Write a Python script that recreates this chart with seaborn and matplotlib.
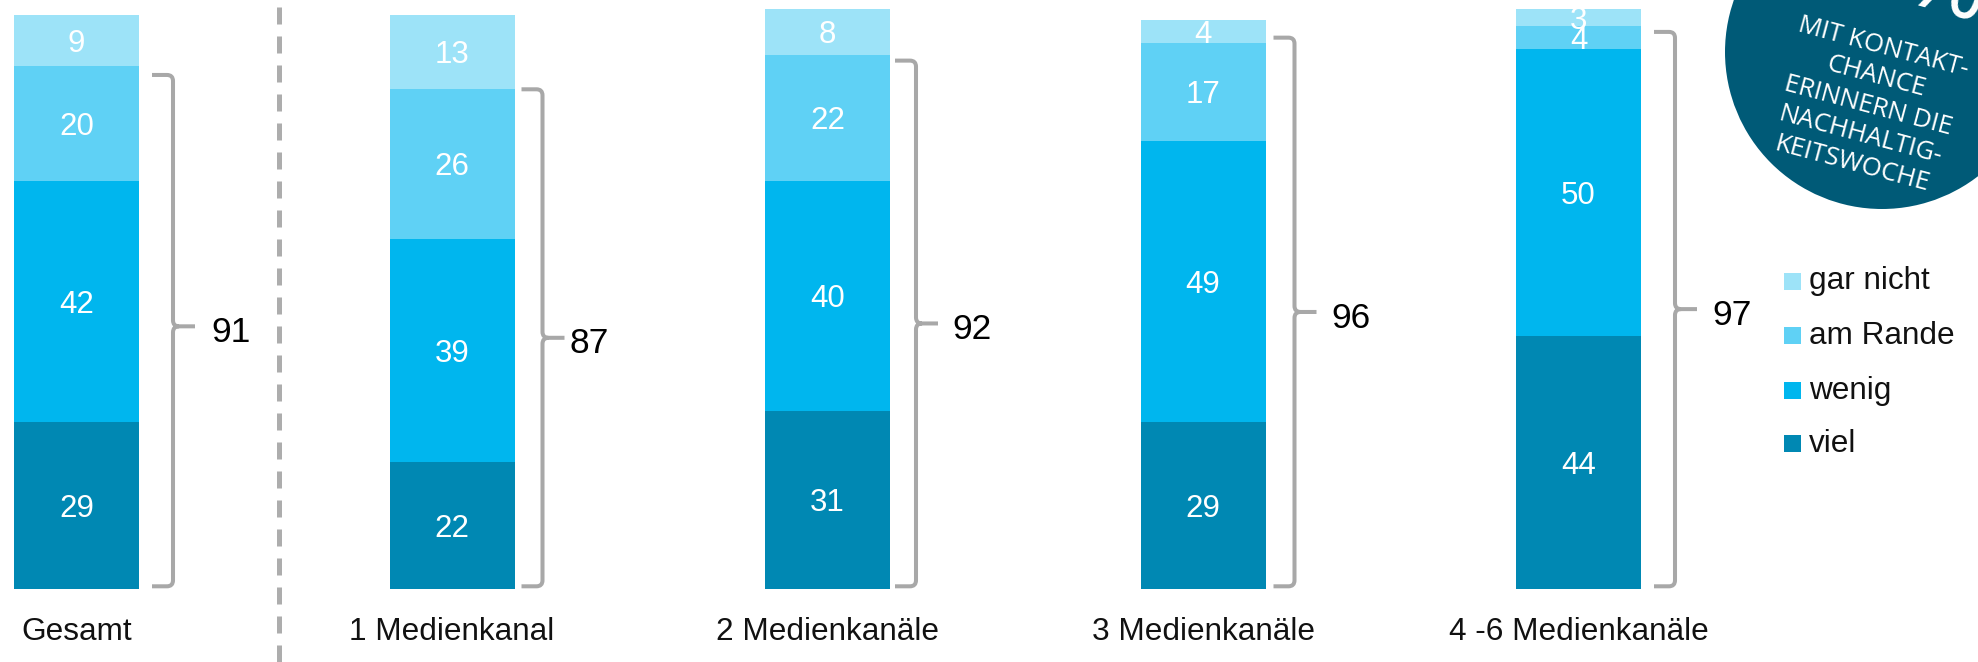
import numpy as np
import pandas as pd
import matplotlib
matplotlib.use("Agg")
import matplotlib.pyplot as plt
import seaborn as sns
from matplotlib.path import Path
from matplotlib.patches import PathPatch, Ellipse, Rectangle

# ---------------- data ----------------
categories = ["Gesamt", "1 Medienkanal", "2 Medienkanäle", "3 Medienkanäle", "4 -6 Medienkanäle"]
viel = [29, 22, 31, 29, 44]
wenig = [42, 39, 40, 49, 50]
am_rande = [20, 26, 22, 17, 4]
gar_nicht = [9, 13, 8, 4, 3]
net = [91, 87, 92, 96, 97]
series_names = ["viel", "wenig", "am Rande", "gar nicht"]
legend_order = ["gar nicht", "am Rande", "wenig", "viel"]
badge_text = "MIT KONTAKT-\nCHANCE\nERINNERN DIE\nNACHHALTIG-\nKEITSWOCHE"

# ---------------- style ----------------
colors = {"viel": "#0088B3", "wenig": "#00B6EE", "am Rande": "#5FD1F5", "gar nicht": "#9DE3F8"}
bracket_color = "#A8A8A8"
badge_color = "#005A77"
br_dx = [34, 28, 26, 29, 34]      # px from bar right edge to bracket spine
br_gap = [16, 5, 14, 15, 15]      # px from bracket tip to label

sns.set_theme(style="white")
plt.rcParams["font.family"] = ["Liberation Sans", "DejaVu Sans"]

W, H = 1978, 662
fig = plt.figure(figsize=(W / 100, H / 100), dpi=100)
ax = fig.add_axes([0, 0, 1, 1])

PXX = 375.5   # px per category step
PXY = 5.739   # px per percentage point
X0PX, Y0PX = 76.5, 588.6


def px(xp, yp):
    return ((xp - X0PX) / PXX, (Y0PX - yp) / PXY)


# ---------------- stacked bars (drawn as overlapping cumulative layers) ----------------
stack = np.array([viel, wenig, am_rande, gar_nicht], dtype=float)
cum = np.cumsum(stack, axis=0)
bar_w = 125 / PXX
for k in range(3, -1, -1):
    sns.barplot(x=categories, y=cum[k], order=categories, color=colors[series_names[k]],
                width=bar_w, saturation=1, linewidth=0, errorbar=None, ax=ax, zorder=2)

ax.set_xlim(-X0PX / PXX, (W - X0PX) / PXX)
ax.set_ylim(-(H - Y0PX) / PXY, Y0PX / PXY)
ax.axis("off")

# segment labels
fs_val = 22.5
half_cap = 0.716 * fs_val / 72 * 100 / 2 / PXY
for i in range(len(categories)):
    b = 0
    for k in range(4):
        v = stack[k, i]
        ax.text(i, b + v / 2 - half_cap, f"{int(v)}", ha="center", va="baseline",
                color="white", fontsize=fs_val, zorder=4)
        b += v

# category labels
for i, c in enumerate(categories):
    ax.text(i, px(0, 640)[1], c, ha="center", va="baseline", fontsize=22.7, color="#111111")

# brackets
rx, ry = 6 / PXX, 6 / PXY
fs_br = 25.5
half_cap_br = 0.716 * fs_br / 72 * 100 / 2 / PXY
for i in range(len(categories)):
    top = net[i] - (1.5 if i == 0 else 0)
    bot = 0.4
    mid = (net[i] + bot) / 2
    xv = i + bar_w / 2 + br_dx[i] / PXX
    x0 = xv - 21 / PXX
    xt = xv + 22 / PXX
    verts = [(x0, top), (xv - rx, top), (xv, top), (xv, top - ry),
             (xv, mid + ry), (xv, mid), (xv + rx, mid), (xt, mid),
             (xv + rx, mid), (xv, mid), (xv, mid - ry),
             (xv, bot + ry), (xv, bot), (xv - rx, bot), (x0, bot)]
    codes = [Path.MOVETO, Path.LINETO, Path.CURVE3, Path.CURVE3,
             Path.LINETO, Path.CURVE3, Path.CURVE3, Path.LINETO,
             Path.MOVETO, Path.CURVE3, Path.CURVE3,
             Path.LINETO, Path.CURVE3, Path.CURVE3, Path.LINETO]
    ax.add_patch(PathPatch(Path(verts, codes), fill=False, edgecolor=bracket_color,
                           lw=2.9, capstyle="butt", joinstyle="round", zorder=3))
    ax.text(xt + br_gap[i] / PXX, mid - half_cap_br - 3 / PXY, f"{net[i]}",
            ha="left", va="baseline", fontsize=fs_br, color="black")

# dashed separator
xd = px(279, 0)[0]
ax.plot([xd, xd], [px(0, 7)[1], px(0, 662)[1]], color="#ADADAD", lw=3.6,
        dashes=(3.4, 2.4), solid_capstyle="butt", dash_capstyle="butt", zorder=1)

# legend
leg_y = [281, 335, 390, 443]
for name, yy in zip(legend_order, leg_y):
    ax.add_patch(Rectangle(px(1784, yy + 8.5), 17 / PXX, 17 / PXY, color=colors[name],
                           lw=0, zorder=3))
    ax.text(*px(1809, yy + 8.5), name, ha="left", va="baseline", fontsize=22.7, color="#111111")

# badge
cx, cy = px(1882, 52)
ax.add_patch(Ellipse((cx, cy), 2 * 157 / PXX, 2 * 157 / PXY, color=badge_color,
                     lw=0, zorder=5, clip_on=False))
ax.text(*px(1868, 106), badge_text, rotation=-15, rotation_mode="anchor", ha="center",
        va="center", multialignment="center", color="white", fontsize=18.5,
        family=["Open Sans", "DejaVu Sans"], linespacing=1.28, zorder=6)
ax.text(*px(1900, 2), "%", rotation=-15, rotation_mode="anchor", ha="left", va="baseline",
        color="white", fontsize=72, family=["Open Sans", "DejaVu Sans"], zorder=6)

fig.savefig("out.png", dpi=100, facecolor="white")
